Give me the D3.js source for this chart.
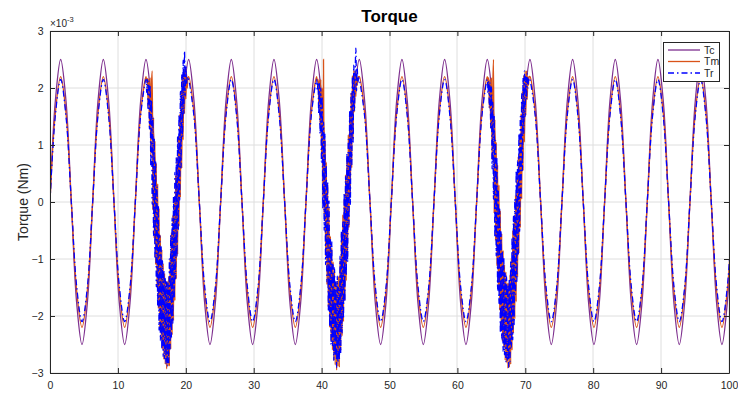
<!DOCTYPE html>
<html>
<head>
<meta charset="utf-8">
<script src="https://cdn.jsdelivr.net/npm/d3@7"></script>
<style>
  body { margin: 0; background: #fff; }
  svg { display: block; }
  text { font-family: "Liberation Sans", Arial, Helvetica, sans-serif; fill: #262626; }
</style>
</head>
<body>
<svg id="chart" width="738" height="396"></svg>
<script>
// ---------------- data ----------------
const chartTitle = "Torque";
const yLabel = "Torque (Nm)";
const yExponent = "-3";
const xTicks = [0, 10, 20, 30, 40, 50, 60, 70, 80, 90, 100];
const yTicks = [-3, -2, -1, 0, 1, 2, 3];
const seriesNames = ["Tc", "Tm", "Tr"];
const seriesColors = ["#7E2F8E", "#D95319", "#0000FF"];

// clean samples, one every pi/4 s, values in 1e-3 Nm
const sampleStep = Math.PI / 4;
const tcClean = [
  0,1.77,2.5,1.77,0,-1.77,-2.5,-1.77, 0,1.77,2.5,1.77,0,-1.77,-2.5,-1.77,
  0,1.77,2.5,1.77,0,-1.77,-2.5,-1.77, 0,1.77,2.5,1.77,0,-1.77,-2.5,-1.77,
  0,1.77,2.5,1.77,0,-1.77,-2.5,-1.77, 0,1.77,2.5,1.77,0,-1.77,-2.5,-1.77,
  0,1.77,2.5,1.77,0,-1.77,-2.5,-1.77, 0,1.77,2.5,1.77,0,-1.77,-2.5,-1.77,
  0,1.77,2.5,1.77,0,-1.77,-2.5,-1.77, 0,1.77,2.5,1.77,0,-1.77,-2.5,-1.77,
  0,1.77,2.5,1.77,0,-1.77,-2.5,-1.77, 0,1.77,2.5,1.77,0,-1.77,-2.5,-1.77,
  0,1.77,2.5,1.77,0,-1.77,-2.5,-1.77, 0,1.77,2.5,1.77,0,-1.77,-2.5,-1.77,
  0,1.77,2.5,1.77,0,-1.77,-2.5,-1.77, 0,1.77,2.5,1.77,0,-1.77,-2.5,-1.77,
  0
];
const tmClean = [
  0,1.56,2.2,1.56,0,-1.56,-2.2,-1.56, 0,1.56,2.2,1.56,0,-1.56,-2.2,-1.56,
  0,1.56,2.2,1.56,0,-1.56,-2.2,-1.56, 0,1.56,2.2,1.56,0,-1.56,-2.2,-1.56,
  0,1.56,2.2,1.56,0,-1.56,-2.2,-1.56, 0,1.56,2.2,1.56,0,-1.56,-2.2,-1.56,
  0,1.56,2.2,1.56,0,-1.56,-2.2,-1.56, 0,1.56,2.2,1.56,0,-1.56,-2.2,-1.56,
  0,1.56,2.2,1.56,0,-1.56,-2.2,-1.56, 0,1.56,2.2,1.56,0,-1.56,-2.2,-1.56,
  0,1.56,2.2,1.56,0,-1.56,-2.2,-1.56, 0,1.56,2.2,1.56,0,-1.56,-2.2,-1.56,
  0,1.56,2.2,1.56,0,-1.56,-2.2,-1.56, 0,1.56,2.2,1.56,0,-1.56,-2.2,-1.56,
  0,1.56,2.2,1.56,0,-1.56,-2.2,-1.56, 0,1.56,2.2,1.56,0,-1.56,-2.2,-1.56,
  0
];
const trClean = [
  0,1.52,2.15,1.5,0,-1.48,-2.1,-1.5, 0,1.52,2.15,1.5,0,-1.48,-2.1,-1.5,
  0,1.52,2.15,1.5,0,-1.48,-2.1,-1.5, 0,1.52,2.15,1.5,0,-1.48,-2.1,-1.5,
  0,1.52,2.15,1.5,0,-1.48,-2.1,-1.5, 0,1.52,2.15,1.5,0,-1.48,-2.1,-1.5,
  0,1.52,2.15,1.5,0,-1.48,-2.1,-1.5, 0,1.52,2.15,1.5,0,-1.48,-2.1,-1.5,
  0,1.52,2.15,1.5,0,-1.48,-2.1,-1.5, 0,1.52,2.15,1.5,0,-1.48,-2.1,-1.5,
  0,1.52,2.15,1.5,0,-1.48,-2.1,-1.5, 0,1.52,2.15,1.5,0,-1.48,-2.1,-1.5,
  0,1.52,2.15,1.5,0,-1.48,-2.1,-1.5, 0,1.52,2.15,1.5,0,-1.48,-2.1,-1.5,
  0,1.52,2.15,1.5,0,-1.48,-2.1,-1.5, 0,1.52,2.15,1.5,0,-1.48,-2.1,-1.5,
  0
];

// noisy bursts: each spans one period starting at a clean peak sample
const burstStartIndex = [18, 50, 82];
const burstSpan = 8;
const tmBurst1 = [2.10,2.17,1.69,2.16,1.32,2.18,0.80,2.07,2.30,-0.14,
  1.48,-0.64,1.07,-1.10,0.68,-1.49,0.32,-1.87,-0.11,-2.20,
  -0.58,-2.43,-0.83,-2.58,-1.08,-2.76,-1.25,-2.85,-1.39,-2.93,
  -1.39,-2.88,-1.31,-2.88,-1.00,-2.58,-0.53,-2.33,-0.23,-2.08,
  0.09,-1.73,0.47,-1.35,0.78,-0.92,1.15,-0.43,1.54,0.08,
  1.94,0.59,2.24,1.09,2.34,1.55,2.33,1.81,2.25,2.00,2.18];
const tmBurst2 = [2.12,2.15,1.72,2.14,1.35,2.15,0.85,2.00,0.10,2.50,
  -0.20,1.10,-0.95,0.70,-1.45,0.30,-1.85,-0.10,-2.20,-0.60,
  -2.45,-0.80,-2.60,-1.05,-2.78,-1.22,-2.86,-1.40,-2.95,-1.38,
  -2.88,-1.30,-2.90,-1.02,-2.60,-0.55,-2.35,-0.22,-2.10,0.05,
  -1.72,0.48,-1.38,0.78,-0.95,1.18,-0.45,1.52,0.10,1.92,
  0.60,2.22,1.10,2.32,1.58,2.30,1.85,2.22,2.05,2.15,2.20];
const tmBurst3 = [2.08,2.18,1.65,2.15,1.30,2.18,0.75,2.05,2.50,-0.20,
  1.45,-0.68,1.05,-1.12,0.65,-1.52,0.30,-1.90,-0.15,-2.22,
  -0.55,-2.45,-0.85,-2.55,-1.10,-2.78,-1.22,-2.82,-1.42,-2.92,
  -1.42,-2.90,-1.28,-2.85,-0.98,-2.60,-0.50,-2.30,-0.25,-2.05,
  0.12,-1.75,0.45,-1.32,0.80,-0.90,1.12,-0.45,1.55,0.05,
  1.95,0.55,2.22,1.05,2.30,1.52,2.30,1.80,2.20,2.05,2.20];
const trBurst1 = [1.92,2.15,1.61,2.12,1.28,2.05,0.62,1.79,-0.04,1.48,
  -0.59,1.12,-1.00,0.73,-1.49,0.27,-1.82,-0.06,-2.25,-0.58,
  -2.43,-0.78,-2.58,-1.03,-2.71,-1.20,-2.75,-1.34,-2.83,-1.39,
  -2.88,-1.41,-2.83,-1.00,-2.58,-0.58,-2.38,-0.28,-2.13,0.09,
  -1.68,0.52,-1.35,0.78,-0.97,1.15,-0.48,1.54,0.03,1.94,
  0.59,2.24,1.14,2.49,1.55,2.65,1.86,2.40,2.07,2.20,2.18];
const trBurst2 = [1.95,2.10,1.55,2.08,1.20,2.00,0.70,1.85,-0.12,1.40,
  -0.50,1.20,-1.10,0.65,-1.40,0.35,-1.90,0.02,-2.18,-0.65,
  -2.50,-0.70,-2.52,-1.10,-2.78,-1.15,-2.70,-1.40,-2.90,-1.30,
  -2.82,-1.50,-2.78,-0.95,-2.65,-0.50,-2.30,-0.35,-2.05,0.15,
  -1.75,0.45,-1.30,0.85,-1.05,1.10,-0.40,1.60,-0.05,1.90,
  0.65,2.20,1.05,2.40,1.60,2.30,2.70,1.95,2.35,2.10,2.18];
const trBurst3 = [1.90,2.12,1.65,2.10,1.30,2.02,0.58,1.75,0.05,1.52,
  -0.62,1.08,-0.95,0.78,-1.55,0.22,-1.78,-0.12,-2.30,-0.52,
  -2.40,-0.85,-2.62,-0.98,-2.68,-1.25,-2.80,-1.30,-2.78,-1.45,
  -2.90,-1.35,-2.80,-1.05,-2.55,-0.62,-2.42,-0.25,-2.15,0.05,
  -1.62,0.55,-1.40,0.72,-0.92,1.20,-0.52,1.50,0.08,1.90,
  0.55,2.18,1.20,2.30,1.50,2.20,1.80,2.25,2.00,2.15,2.18];

// ---------------- build series ----------------
function buildSeries(clean, bursts) {
  const pts = [];
  clean.forEach((v, k) => {
    const inside = bursts && burstStartIndex.some(s => k > s && k < s + burstSpan);
    if (!inside) pts.push({ t: k * sampleStep, v });
  });
  if (bursts) bursts.forEach((arr, b) => {
    const tL = burstStartIndex[b] * sampleStep;
    const h = burstSpan * sampleStep / (arr.length + 1);
    arr.forEach((v, i) => pts.push({ t: tL + (i + 1) * h, v }));
  });
  return pts.sort((a, b) => a.t - b.t);
}
const series = [
  { name: seriesNames[0], color: seriesColors[0], dash: null, pts: buildSeries(tcClean, null) },
  { name: seriesNames[1], color: seriesColors[1], dash: null, pts: buildSeries(tmClean, [tmBurst1, tmBurst2, tmBurst3]) },
  { name: seriesNames[2], color: seriesColors[2], dash: "6,3,1.5,3", pts: buildSeries(trClean, [trBurst1, trBurst2, trBurst3]) }
];

// ---------------- draw ----------------
const svg = d3.select("#chart");
const L = 50, R = 729, T = 31, B = 373;
const x = d3.scaleLinear().domain([0, 100]).range([L, R]);
const y = d3.scaleLinear().domain([-3, 3]).range([B, T]);

svg.append("rect").attr("width", 738).attr("height", 396).attr("fill", "#fff");

// grid
const grid = svg.append("g").attr("stroke", "#dedede").attr("stroke-width", 1);
xTicks.forEach(t => grid.append("line").attr("x1", Math.round(x(t))).attr("x2", Math.round(x(t))).attr("y1", T).attr("y2", B));
yTicks.forEach(t => grid.append("line").attr("x1", L).attr("x2", R).attr("y1", Math.round(y(t))).attr("y2", Math.round(y(t))));

// lines
svg.append("clipPath").attr("id", "clip").append("rect")
  .attr("x", L).attr("y", T).attr("width", R - L).attr("height", B - T);
const line = d3.line().x(d => x(d.t)).y(d => y(d.v)).curve(d3.curveCatmullRom.alpha(0.5));
const lines = svg.append("g").attr("clip-path", "url(#clip)");
series.forEach(s => {
  lines.append("path").attr("d", line(s.pts)).attr("fill", "none")
    .attr("stroke", s.color).attr("stroke-width", 1.3)
    .attr("stroke-dasharray", s.dash);
});

// axes
function styleAxis(g) {
  g.select(".domain").attr("stroke", "#262626");
  g.selectAll(".tick line").attr("stroke", "#262626");
  g.selectAll(".tick text").attr("fill", "#262626").style("font-size", "10.5px")
    .style("font-family", '"Liberation Sans", Arial, Helvetica, sans-serif');
}
svg.append("g").attr("transform", `translate(0,${B})`)
  .call(d3.axisBottom(x).tickValues(xTicks).tickSizeInner(-5).tickSizeOuter(0).tickPadding(9).tickFormat(d3.format("d")))
  .call(styleAxis);
svg.append("g").attr("transform", `translate(0,${T})`)
  .call(d3.axisTop(x).tickValues(xTicks).tickSizeInner(-5).tickSizeOuter(0).tickFormat(""))
  .call(styleAxis);
svg.append("g").attr("transform", `translate(${L},0)`)
  .call(d3.axisLeft(y).tickValues(yTicks).tickSizeInner(-5).tickSizeOuter(0).tickPadding(6.5).tickFormat(d3.format("d")))
  .call(styleAxis);
svg.append("g").attr("transform", `translate(${R},0)`)
  .call(d3.axisRight(y).tickValues(yTicks).tickSizeInner(-5).tickSizeOuter(0).tickFormat(""))
  .call(styleAxis);

// exponent label
const ex = svg.append("text").attr("x", L).attr("y", 27).style("font-size", "10px");
ex.append("tspan").text("\u00d710");
ex.append("tspan").attr("dy", -5).style("font-size", "7.5px").text(yExponent);

// title
svg.append("text").attr("x", (L + R) / 2).attr("y", 22).attr("text-anchor", "middle")
  .style("font-size", "17px").style("font-weight", "bold").style("fill", "#000").text(chartTitle);

// y label
svg.append("text").attr("transform", `translate(28,${(T + B) / 2}) rotate(-90)`)
  .attr("text-anchor", "middle").style("font-size", "14px").text(yLabel);

// legend
const lg = svg.append("g");
lg.append("rect").attr("x", 663.5).attr("y", 42.5).attr("width", 56).attr("height", 39)
  .attr("fill", "#fff").attr("stroke", "#262626").attr("stroke-width", 1);
const rowY = [50, 61.5, 73];
series.forEach((s, i) => {
  lg.append("line").attr("x1", 668).attr("x2", 700).attr("y1", rowY[i]).attr("y2", rowY[i])
    .attr("stroke", s.color).attr("stroke-width", 1.3).attr("stroke-dasharray", s.dash);
  lg.append("text").attr("x", 704).attr("y", rowY[i] + 3.5).style("font-size", "10.5px").text(s.name);
});
</script>
</body>
</html>
